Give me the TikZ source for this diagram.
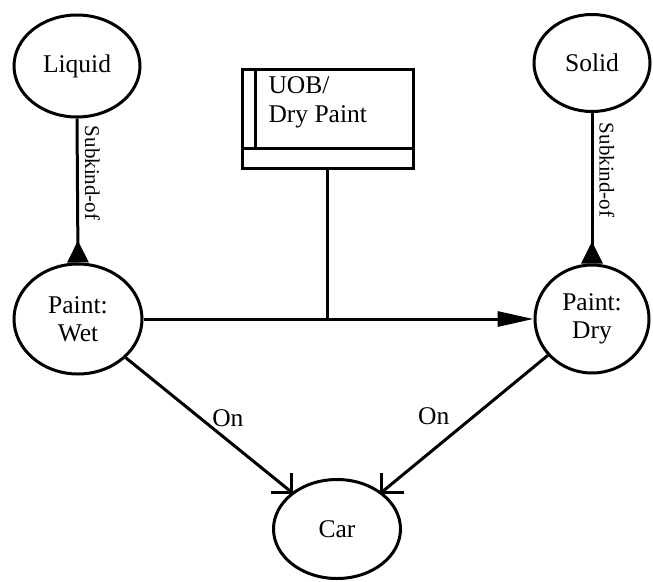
\documentclass[tikz,border=0pt]{standalone}
\usepackage{fontspec}
\setmainfont{Liberation Serif}
\usetikzlibrary{shapes.geometric, arrows.meta}

\begin{document}
\begin{tikzpicture}[x=1pt, y=-1pt, line width=3pt,
    concept/.style={draw, ellipse, inner sep=0pt, align=center, font=\fontsize{25.5}{28}\selectfont},
    sublabel/.style={rotate=-90, anchor=south, inner sep=6pt, font=\fontsize{21}{24}\selectfont},
    onlabel/.style={inner sep=2pt, yshift=-5pt, font=\fontsize{25.5}{28}\selectfont}]
    \useasboundingbox (0,0) rectangle (653,581);

    % Kinds
    \node[concept, minimum width=126pt, minimum height=102pt] (liquid) at (77,66) {Liquid};
    \node[concept, minimum width=116pt, minimum height=97pt] (solid) at (592,63) {Solid};

    % Paint states
    \node[concept, minimum width=128pt, minimum height=110pt] (wet) at (78,319) {Paint:\\Wet};
    \node[concept, minimum width=114pt, minimum height=108pt] (dry) at (592,319) {Paint:\\Dry};

    % Car
    \node[concept, minimum width=127pt, minimum height=99pt] (car) at (337,529) {Car};

    % UOB box
    \node[draw, minimum width=171pt, minimum height=99pt, inner sep=0pt] (uob) at (327.5,118.5) {};
    \draw ([yshift=21pt]uob.south west) -- ([yshift=21pt]uob.south east);
    \draw ([xshift=15pt]uob.north west) -- ([xshift=15pt,yshift=21pt]uob.south west);
    \node[anchor=west, align=left, inner sep=0pt, font=\fontsize{25.5}{29}\selectfont] (uobtext) at (267,102) {UOB/\\Dry Paint};

    % Transition wet -> dry
    \draw[-{Triangle[length=36pt, width=15pt]}] (wet) -- (dry);
    \coordinate (join) at (uob.south |- wet.east);
    \draw (uob.south) -- (join);

    % Subkind-of
    \foreach \sub/\kind in {wet/liquid, dry/solid}
        \draw[{Triangle[reversed, length=22pt, width=21pt]}-] (\sub.north) -- node[sublabel, pos=0.62] {Subkind-of} (\kind.south);

    % On (open barbs drawn by hand)
    \draw (wet) -- node[onlabel, pos=0.5, anchor=south west] {On} coordinate[pos=1] (ontipL) (car);
    \draw (dry) -- node[onlabel, pos=0.5, anchor=south east, xshift=-12pt] {On} coordinate[pos=1] (ontipR) (car);
    \draw (ontipL) -- ++(-21,0) (ontipL) -- ++(0,-19);
    \draw (ontipR) -- ++(22,0) (ontipR) -- ++(0,-19);
\end{tikzpicture}
\end{document}
